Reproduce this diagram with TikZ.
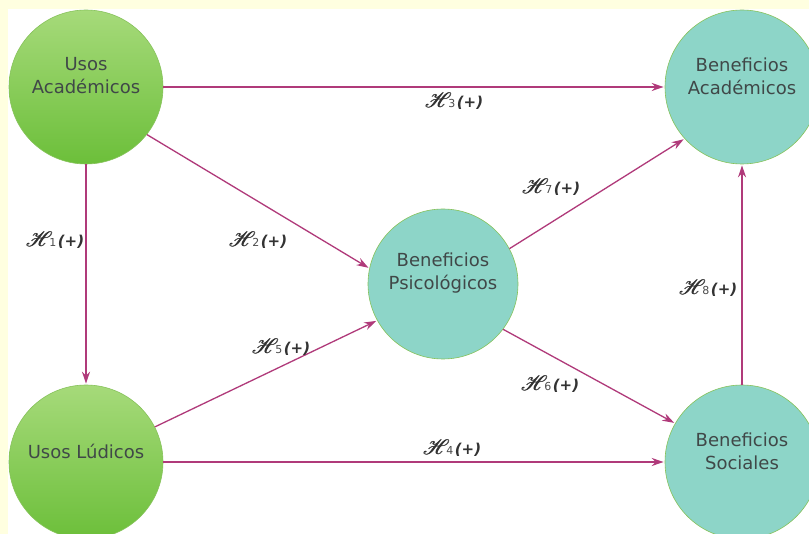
\documentclass[tikz,border=0pt]{standalone}
\usepackage{fontspec}
\usepackage{mathrsfs}
\setmainfont{DejaVu Sans}
\usetikzlibrary{arrows.meta}

\definecolor{frame}{HTML}{FFFFE0}
\definecolor{arrowc}{HTML}{B03A7A}
\definecolor{greentop}{HTML}{A6DA7A}
\definecolor{greenbot}{HTML}{6CBF3A}
\definecolor{teal}{HTML}{8DD5C8}
\definecolor{rim}{HTML}{86C25A}
\definecolor{txt}{HTML}{404848}

% script H, bold by overprinting
\newcommand{\scrH}{{\fontsize{20}{20}\selectfont\rlap{$\mathscr{H}$}\kern0.4pt\rlap{$\mathscr{H}$}\kern0.4pt$\mathscr{H}$}}
\newcommand{\hyp}[1]{\scrH\kern-3.5pt{\fontsize{11}{11}\selectfont\color{black!70}#1}\kern1.5pt\textbf{\textit{(+)}}}

\begin{document}
\begin{tikzpicture}[x=1pt, y=-1pt,
        usos/.style={circle, draw=rim, line width=0.6pt, top color=greentop, bottom color=greenbot, minimum size=154pt, inner sep=0pt},
        bene/.style={circle, draw=rim, line width=0.6pt, fill=teal, minimum size=154pt, inner sep=0pt},
        tag/.style={text=txt, align=center, font=\fontsize{18}{23}\selectfont, yshift=11pt},
        arr/.style={-{Stealth[length=12pt, width=8pt]}, draw=arrowc, line width=1.3pt, shorten >=1pt},
        hyplbl/.style={text=black!80, font=\fontsize{15}{15}\selectfont, inner sep=0pt}]
        \clip (0,0) rectangle (809,534);
        \fill[frame] (0,0) rectangle (809,534);
        \fill[white] (8,9) rectangle (809,534);
        % nodos
        \node[usos] (ua) at (86,87) [label={[tag]center:Usos\\Académicos}] {};
        \node[usos] (ul) at (86,462) [label={[tag]center:Usos Lúdicos}] {};
        \node[bene, minimum size=150pt] (bp) at (443,284) [label={[tag]center:Beneficios\\Psicológicos}] {};
        \node[bene] (ba) at (742,87) [label={[tag]center:Beneficios\\Académicos}] {};
        \node[bene] (bs) at (742,462) [label={[tag]center:Beneficios\\Sociales}] {};
        % hipotesis
        \draw[arr] (ua.south) -- (ul.north);
        \draw[arr] (ua.-38) -- (bp.168);
        \draw[arr] (ua.east) -- (ba.west);
        \draw[arr] (ul.east) -- (bs.west);
        \draw[arr] (ul.27) -- (bp.209);
        \draw[arr] (bp.-37) -- (bs.150);
        \draw[arr] (bp.28) -- (ba.222);
        \draw[arr] (bs.north) -- (ba.south);
        \node[hyplbl] (h1) at (55,240) {\hyp{1}};
        \node[hyplbl] (h2) at (258,240) {\hyp{2}};
        \node[hyplbl] (h3) at (454,101) {\hyp{3}};
        \node[hyplbl] (h4) at (452,448) {\hyp{4}};
        \node[hyplbl] (h5) at (281,347) {\hyp{5}};
        \node[hyplbl] (h6) at (550,384) {\hyp{6}};
        \node[hyplbl] (h7) at (551,187) {\hyp{7}};
        \node[hyplbl] (h8) at (708,288) {\hyp{8}};
    \end{tikzpicture}
\end{document}
